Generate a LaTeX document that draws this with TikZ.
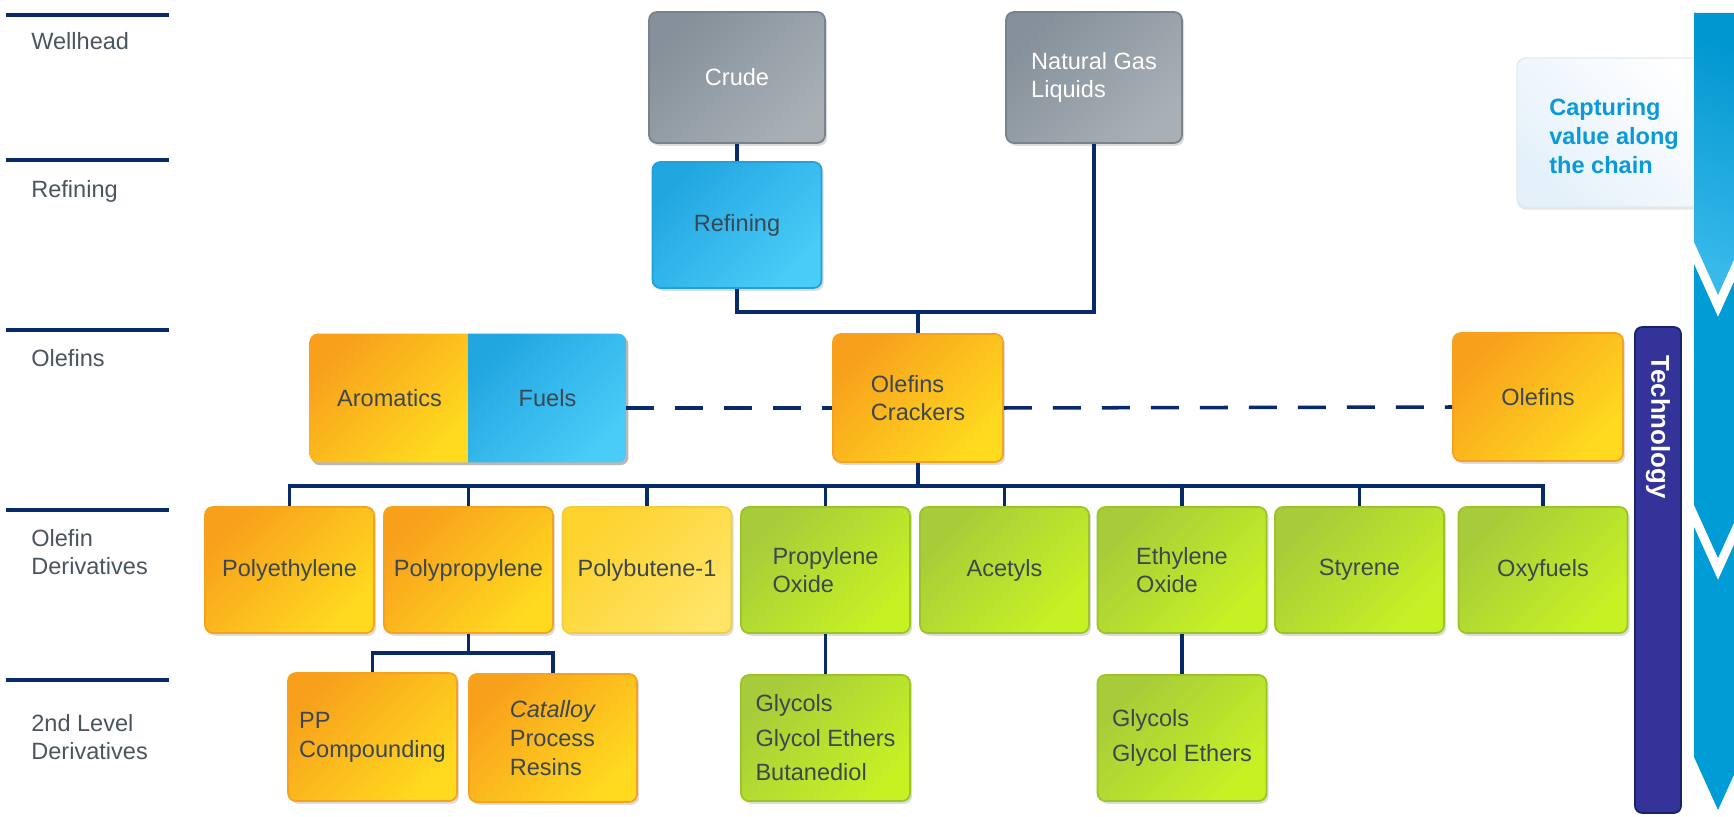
\documentclass[tikz,border=0pt]{standalone}
\usepackage{fontspec}
\setmainfont{Liberation Sans}
\usetikzlibrary{shadows, backgrounds}

\definecolor{linknavy}{HTML}{08296A}
\definecolor{stagegray}{HTML}{4A5560}
\definecolor{boxtext}{HTML}{3C4752}
\definecolor{orangeA}{HTML}{F8A01C}
\definecolor{orangeB}{HTML}{FFDA1F}
\definecolor{orangeEdge}{HTML}{F6A21E}
\definecolor{yellowA}{HTML}{FDD22C}
\definecolor{yellowB}{HTML}{FFE466}
\definecolor{yellowEdge}{HTML}{F5CD3A}
\definecolor{greenA}{HTML}{A7CB3A}
\definecolor{greenB}{HTML}{C6F224}
\definecolor{greenEdge}{HTML}{9BC424}
\definecolor{blueA}{HTML}{22A6E0}
\definecolor{blueB}{HTML}{4ACCF8}
\definecolor{blueEdge}{HTML}{1FA2DB}
\definecolor{grayA}{HTML}{85909A}
\definecolor{grayB}{HTML}{A8B0B6}
\definecolor{grayEdge}{HTML}{78838C}
\definecolor{techfill}{HTML}{333399}
\definecolor{techedge}{HTML}{14256A}
\definecolor{chainblue}{HTML}{009CD6}
\definecolor{chaindark}{HTML}{0096CF}
\definecolor{chainlight}{HTML}{38B9EA}
\definecolor{capblue}{HTML}{0A9ADB}
\definecolor{capfill}{HTML}{E4F1FA}
\definecolor{capedge}{HTML}{E2EAF0}

\tikzset{
  link/.style={draw=linknavy, line width=2pt},
  dashlink/.style={link, dash pattern=on 0.56cm off 0.42cm},
  stagerule/.style={draw=linknavy, line width=2pt},
  stage/.style={anchor=west, align=left, text=stagegray, inner sep=0pt,
    font=\fontsize{13.4pt}{15.6pt}\selectfont},
  box/.style={rectangle, rounded corners=4.5pt, inner sep=0pt, align=left,
    text=boxtext, line width=1pt, minimum width=3.38cm, minimum height=2.52cm,
    drop shadow={shadow xshift=1.2pt, shadow yshift=-1.6pt, opacity=0.28}},
  orangebox/.style={box, draw=orangeEdge, top color=orangeA, bottom color=orangeB, shading angle=45},
  yellowbox/.style={box, draw=yellowEdge, top color=yellowA, bottom color=yellowB, shading angle=45},
  greenbox/.style={box, draw=greenEdge, top color=greenA, bottom color=greenB, shading angle=45},
  bluebox/.style={box, draw=blueEdge, top color=blueA, bottom color=blueB, shading angle=45},
  graybox/.style={box, draw=grayEdge, top color=grayA, bottom color=grayB, shading angle=45, text=white},
  halfbox/.style={rectangle, inner sep=0pt, text=boxtext, minimum height=2.56cm},
  glycols/.style={font=\fontsize{13.4pt}{19.6pt}\selectfont},
  capbox/.style={rectangle, rounded corners=5pt, minimum width=4.06cm, minimum height=2.98cm,
    draw=capedge, line width=0.8pt, top color=white, bottom color=capfill, shading angle=-45,
    drop shadow={shadow xshift=0pt, shadow yshift=-1.5pt, opacity=0.2}},
  captext/.style={anchor=west, align=left, inner sep=0pt, text=capblue,
    font=\bfseries\fontsize{13.4pt}{16.4pt}\selectfont},
  techbar/.style={rectangle, rounded corners=4pt, minimum width=0.92cm, minimum height=9.72cm,
    fill=techfill, draw=techedge, line width=1pt},
  techtext/.style={rotate=-90, inner sep=0pt, text=white,
    font=\bfseries\fontsize{14.7pt}{17pt}\selectfont}
}

\begin{document}
\begin{tikzpicture}[x=0.02cm, y=-0.02cm, font=\fontsize{13.4pt}{16.4pt}\selectfont]
  \useasboundingbox (0,0) rectangle (1734,817);

  % stages
  \foreach \y in {15, 160, 330, 510, 680}
    \draw[stagerule] (6,\y) -- (169,\y);
  \node[stage] (wellhead) at (31,41) {Wellhead};
  \node[stage] (refstage) at (31,191) {Refining};
  \node[stage] (olestage) at (31,358) {Olefins};
  \node[stage] (derstage) at (31,552) {Olefin\\Derivatives};
  \node[stage] (secstage) at (31,737) {2nd Level\\Derivatives};

  % feedstocks
  \node[graybox, minimum width=3.52cm, minimum height=2.62cm] (crude) at (737,77.5) {Crude};
  \node[graybox, minimum width=3.52cm, minimum height=2.62cm] (ngl) at (1094,77.5) {Natural Gas\\Liquids};
  \node[bluebox] (refining) at (737,225) {Refining};

  % olefins
  \node[orangebox, minimum width=3.4cm, minimum height=2.56cm] (crackers) at (918,398) {Olefins\\Crackers};
  \node[orangebox, minimum width=3.4cm, minimum height=2.56cm] (olefins) at (1538,397) {Olefins};
  \node[halfbox, minimum width=3.18cm] (aromatics) at (389.5,398) {Aromatics};
  \node[halfbox, minimum width=3.14cm] (fuels) at (547.5,398) {Fuels};

  % olefin derivatives
  \node[orangebox] (polyeth) at (289.5,570) {Polyethylene};
  \node[orangebox] (polyprop) at (468.5,570) {Polypropylene};
  \node[yellowbox] (polybut) at (647,570) {Polybutene-1};
  \node[greenbox] (propox) at (825.5,570) {Propylene\\Oxide};
  \node[greenbox] (acetyls) at (1004.5,570) {Acetyls};
  \node[greenbox] (ethox) at (1182,570) {Ethylene\\Oxide};
  \node[greenbox] (styrene) at (1359.5,570) {Styrene};
  \node[greenbox] (oxyfuels) at (1543,570) {Oxyfuels};

  % 2nd level derivatives
  \node[orangebox, minimum height=2.56cm] (ppcomp) at (372.5,737) {PP\\Compounding};
  \node[orangebox, minimum width=3.36cm, minimum height=2.56cm] (catalloy) at (553,738)
    {\textit{Catalloy}\\Process\\Resins};
  \node[greenbox, glycols] (glycolsA) at (825.5,738) {Glycols\\Glycol Ethers\\Butanediol};
  \node[greenbox, glycols] (glycolsB) at (1182,738) {Glycols\\Glycol Ethers};

  % connectors
  \coordinate (feed) at (918,312);
  \draw[link] (crude) -- (refining);
  \draw[link] (refining) |- (feed) -| (ngl);
  \draw[link] (feed) -- (crackers);
  \draw[dashlink] ([yshift=-0.2cm]fuels.east) -- ([yshift=-0.2cm]crackers.west);
  \draw[dashlink] ([yshift=-0.2cm]crackers.east) -- ([yshift=-0.2cm]olefins.west);

  \coordinate (bus) at (918,486);
  \draw[link] (crackers) -- (bus);
  \draw[link] (polyeth) |- (bus) -| (oxyfuels);
  \foreach \n in {polyprop, polybut, propox, acetyls, ethox, styrene}
    \draw[link] (\n) -- (\n |- bus);

  \coordinate (ppbus) at (468.5,653);
  \draw[link] (polyprop) -- (ppbus);
  \draw[link] (ppcomp) |- (ppbus) -| (catalloy);
  \draw[link] (propox) -- (glycolsA);
  \draw[link] (ethox) -- (glycolsB);

  % aromatics / fuels share one box
  \begin{pgfonlayer}{background}
    \fill[black, opacity=0.28, rounded corners=4.5pt]
      ([xshift=1.2pt, yshift=-1.6pt]aromatics.north west) rectangle ([xshift=1.2pt, yshift=-1.6pt]fuels.south east);
    \begin{scope}
      \clip[rounded corners=4.5pt] (aromatics.north west) rectangle (fuels.south east);
      \shade[top color=orangeA, bottom color=orangeB, shading angle=45]
        (aromatics.north west) rectangle (aromatics.south east);
      \shade[top color=blueA, bottom color=blueB, shading angle=45]
        (fuels.north west) rectangle (fuels.south east);
    \end{scope}
  \end{pgfonlayer}

  % value chain arrow
  \node[capbox] (capbox) at (1618.5,132.5) {};
  \shade[top color=chaindark, bottom color=chainlight, shading angle=-20]
    (1694,13) -- (1742,13) -- (1742,242) -- (1718,295) -- (1694,242) -- cycle;
  \foreach \ya/\yb in {264/505, 527/757}
    \fill[chainblue] (1694,\ya) -- (1718,\ya+53) -- (1742,\ya) -- (1742,\yb)
      -- (1718,\yb+53) -- (1694,\yb) -- cycle;
  \node[captext] (capture) at (1549,136) {Capturing\\value along\\the chain};

  % technology
  \node[techbar] (techbar) at (1658,570) {};
  \node[techtext] (technology) at (1658,427) {Technology};
\end{tikzpicture}
\end{document}
